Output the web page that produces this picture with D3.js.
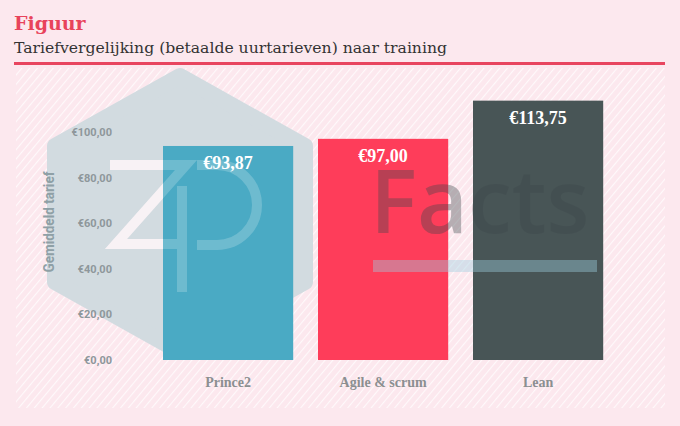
<html>
<head>
<meta charset="utf-8">
<title>Tariefvergelijking</title>
<style>
  body { margin: 0; background: #fce8ee; }
</style>
</head>
<body>
<script src="https://cdn.jsdelivr.net/npm/d3@7"></script>
<script>

var categories = ["Prince2", "Agile & scrum", "Lean"];
var values     = [93.87, 97.00, 113.75];
var yTicks     = [0, 20, 40, 60, 80, 100];
var colors     = ["#4aaac4", "#fe3d5a", "#485556"];

var width  = 680;
var height = 426;

var nl = d3.formatLocale({decimal: ",", thousands: ".", grouping: [3], currency: ["€", ""]});
var euro = nl.format("$.2f");

var svg = d3.select("body")
            .append("svg")
            .attr("width", width)
            .attr("height", height);

// achtergrond
svg.append("rect")
   .attr("width", width)
   .attr("height", height)
   .attr("fill", "#fce8ee");

var defs = svg.append("defs");
var pat = defs.append("pattern")
              .attr("id", "stripes")
              .attr("patternUnits", "userSpaceOnUse")
              .attr("width", 6)
              .attr("height", 6)
              .attr("patternTransform", "rotate(40)");
pat.append("line")
   .attr("x1", 0).attr("y1", 0)
   .attr("x2", 0).attr("y2", 6)
   .attr("stroke", "#ffffff")
   .attr("stroke-width", 2.2)
   .attr("stroke-opacity", 0.75);

svg.append("rect")
   .attr("x", 16).attr("y", 68)
   .attr("width", 649).attr("height", 340)
   .attr("fill", "url(#stripes)");

// titel
svg.append("text")
   .attr("x", 14).attr("y", 30)
   .attr("font-family", "DejaVu Serif, serif")
   .attr("font-weight", "bold")
   .attr("font-size", 19)
   .attr("fill", "#e8435b")
   .text("Figuur");

svg.append("text")
   .attr("x", 14).attr("y", 53)
   .attr("font-family", "DejaVu Serif, serif")
   .attr("font-size", 15)
   .attr("textLength", 433)
   .attr("lengthAdjust", "spacingAndGlyphs")
   .attr("fill", "#333333")
   .text("Tariefvergelijking (betaalde uurtarieven) naar training");

svg.append("rect")
   .attr("x", 14).attr("y", 62)
   .attr("width", 651).attr("height", 3)
   .attr("fill", "#e8455f");

// schalen
var x = d3.scaleBand()
          .domain(categories)
          .range([150.6, 615.6])
          .paddingInner(0.16)
          .paddingOuter(0.08);

var y = d3.scaleLinear()
          .domain([0, 120])
          .range([360, 86.4]);

// watermerk: zeshoek
var hex = [[180, 76], [305, 146], [305, 282], [180, 352], [55, 282], [55, 146]];
svg.append("path")
   .attr("d", d3.line()(hex) + "Z")
   .attr("fill", "#d2dbe0")
   .attr("stroke", "#d2dbe0")
   .attr("stroke-width", 16)
   .attr("stroke-linejoin", "round");

var logo = "M110,165 H186 L116,244 H186 M182,186 V292 M197,165 H217 A40,40 0 0 1 217,245 H197";

svg.append("path")
   .attr("d", logo)
   .attr("fill", "none")
   .attr("stroke", "#fbf1f5")
   .attr("stroke-width", 10)
   .attr("opacity", 0.9);

// staven
svg.append("g")
   .selectAll("rect")
   .data(values)
   .enter()
   .append("rect")
   .attr("x", function(d, i) { return x(categories[i]); })
   .attr("y", function(d) { return y(d); })
   .attr("width", x.bandwidth())
   .attr("height", function(d) { return y(0) - y(d); })
   .attr("fill", function(d, i) { return colors[i]; });

svg.append("path")
   .attr("d", logo)
   .attr("fill", "none")
   .attr("stroke", "#ffffff")
   .attr("stroke-width", 10)
   .attr("opacity", 0.2);

svg.append("text")
   .attr("x", 370).attr("y", 233)
   .attr("font-family", "Open Sans, sans-serif")
   .attr("font-weight", 600)
   .attr("font-size", 88)
   .attr("fill", "#3c464a")
   .attr("opacity", 0.36)
   .text("Facts");

svg.append("rect")
   .attr("x", 373).attr("y", 260)
   .attr("width", 224).attr("height", 12)
   .attr("fill", "#9dd0e2")
   .attr("opacity", 0.4);

// waardelabels
svg.append("g")
   .selectAll("text")
   .data(values)
   .enter()
   .append("text")
   .attr("x", function(d, i) { return x(categories[i]) + x.bandwidth() / 2; })
   .attr("y", function(d) { return y(d) + 23; })
   .attr("text-anchor", "middle")
   .attr("font-family", "Liberation Serif, serif")
   .attr("font-weight", "bold")
   .attr("font-size", 18)
   .attr("fill", "#ffffff")
   .text(function(d) { return euro(d); });

// y-as
var yAxis = d3.axisLeft(y)
              .tickValues(yTicks)
              .tickFormat(euro)
              .tickSize(0)
              .tickPadding(0);

var gy = svg.append("g")
            .attr("transform", "translate(112,0)")
            .call(yAxis);
gy.select(".domain").remove();
gy.selectAll("text")
  .attr("font-family", "Roboto, sans-serif")
  .attr("font-weight", "bold")
  .attr("font-size", 11)
  .attr("fill", "#8e979b");

svg.append("text")
   .attr("transform", "translate(54,222) rotate(-90)")
   .attr("text-anchor", "middle")
   .attr("font-family", "Roboto, sans-serif")
   .attr("font-weight", "bold")
   .attr("font-size", 14)
   .attr("textLength", 101)
   .attr("lengthAdjust", "spacingAndGlyphs")
   .attr("fill", "#8fa0a6")
   .text("Gemiddeld tarief");

// x-as
var xAxis = d3.axisBottom(x).tickSize(0).tickPadding(0);
var gx = svg.append("g")
            .attr("transform", "translate(0,387)")
            .call(xAxis);
gx.select(".domain").remove();
gx.selectAll("text")
  .attr("dy", 0)
  .attr("font-family", "Liberation Serif, serif")
  .attr("font-weight", "bold")
  .attr("font-size", 14)
  .attr("fill", "#8b8f91");

</script>
</body>
</html>
